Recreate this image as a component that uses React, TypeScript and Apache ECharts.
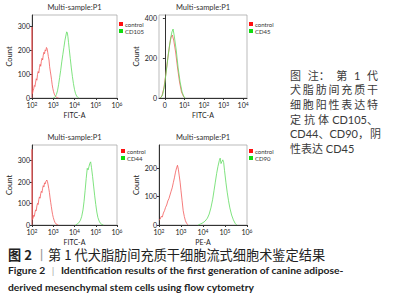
import React, { useEffect, useRef } from "react";
import * as echarts from "echarts";

// ---- data (x in decades for log panels, display units for panel 2) ----
const panelTitle = "Multi-sample:P1";
const logTicks = [2, 3, 4, 5, 6];
const biexTicks = [0, 1, 2, 3, 4];

const p1Control: [number, number][] = [
  [2.0, 0], [2.0, 295], [2.02, 18], [2.05, 30], [2.08, 38], [2.11, 52], [2.14, 48], [2.17, 66], [2.2, 80],
  [2.23, 74], [2.26, 98], [2.29, 110], [2.32, 104], [2.35, 126], [2.38, 140], [2.41, 132], [2.44, 152],
  [2.47, 165], [2.5, 158], [2.53, 178], [2.56, 190], [2.59, 184], [2.62, 200], [2.65, 196], [2.68, 210],
  [2.71, 205], [2.74, 190], [2.77, 172], [2.8, 158], [2.83, 130], [2.86, 112], [2.89, 95], [2.92, 76],
  [2.95, 55], [2.98, 40], [3.01, 28], [3.05, 16], [3.1, 8], [3.15, 3], [3.2, 1], [3.25, 0],
];
const p1CD105: [number, number][] = [
  [3.0, 0], [3.05, 2], [3.1, 6], [3.15, 15], [3.2, 30], [3.25, 55], [3.3, 85], [3.35, 115], [3.4, 150],
  [3.45, 180], [3.5, 210], [3.55, 240], [3.6, 262], [3.63, 275], [3.66, 272], [3.69, 255], [3.72, 230],
  [3.75, 205], [3.8, 165], [3.85, 125], [3.9, 90], [3.95, 60], [4.0, 35], [4.05, 18], [4.1, 8], [4.15, 3], [4.2, 0],
];
const p2Control: [number, number][] = [
  [-0.25, 0], [-0.15, 10], [-0.05, 50], [0.05, 120], [0.15, 200], [0.25, 270], [0.32, 305], [0.38, 315],
  [0.45, 290], [0.55, 230], [0.65, 150], [0.75, 80], [0.85, 30], [0.95, 8], [1.02, 0],
];
const p2CD45: [number, number][] = [
  [-0.22, 0], [-0.12, 15], [-0.02, 60], [0.08, 140], [0.18, 220], [0.28, 290], [0.36, 330], [0.42, 345],
  [0.48, 310], [0.58, 240], [0.68, 150], [0.78, 80], [0.88, 30], [0.98, 5], [1.05, 0],
];
const p3Control: [number, number][] = [
  [2.0, 0], [2.0, 350], [2.02, 25], [2.05, 32], [2.08, 45], [2.11, 40], [2.14, 58], [2.17, 70], [2.2, 66],
  [2.23, 88], [2.26, 100], [2.29, 95], [2.32, 118], [2.35, 130], [2.38, 124], [2.41, 145], [2.44, 156],
  [2.47, 150], [2.5, 170], [2.53, 182], [2.56, 176], [2.59, 195], [2.62, 190], [2.66, 203], [2.7, 208],
  [2.73, 200], [2.76, 185], [2.79, 168], [2.82, 150], [2.85, 125], [2.88, 105], [2.91, 85], [2.94, 65],
  [2.97, 48], [3.0, 35], [3.04, 22], [3.08, 12], [3.13, 5], [3.18, 2], [3.24, 0],
];
const p3CD44: [number, number][] = [
  [4.05, 0], [4.12, 4], [4.2, 10], [4.28, 22], [4.34, 40], [4.4, 70], [4.45, 110], [4.5, 160], [4.55, 215],
  [4.6, 262], [4.64, 255], [4.68, 270], [4.72, 285], [4.76, 292], [4.8, 265], [4.85, 225], [4.9, 180],
  [4.95, 135], [5.0, 95], [5.05, 60], [5.1, 35], [5.16, 18], [5.22, 8], [5.28, 3], [5.36, 0],
];
const p4Control: [number, number][] = [
  [2.0, 17], [2.05, 20], [2.1, 30], [2.15, 28], [2.2, 42], [2.25, 50], [2.3, 62], [2.35, 70], [2.4, 84],
  [2.45, 92], [2.5, 105], [2.55, 118], [2.6, 130], [2.65, 148], [2.7, 165], [2.75, 185], [2.8, 200],
  [2.84, 209], [2.88, 195], [2.92, 172], [2.96, 150], [3.0, 120], [3.05, 85], [3.1, 50], [3.15, 30],
  [3.2, 15], [3.26, 5], [3.33, 0],
];
const p4CD90: [number, number][] = [
  [3.78, 0], [3.9, 4], [4.0, 8], [4.1, 14], [4.2, 24], [4.28, 38], [4.36, 60], [4.44, 90], [4.5, 120],
  [4.56, 150], [4.62, 180], [4.68, 205], [4.74, 225], [4.78, 234], [4.82, 215], [4.86, 222], [4.9, 228],
  [4.94, 218], [4.98, 190], [5.04, 150], [5.1, 115], [5.16, 85], [5.22, 60], [5.3, 35], [5.38, 18],
  [5.46, 6], [5.53, 0],
];

const markerNames = ["CD105", "CD45", "CD44", "CD90"];
const xAxisNames = ["FITC-A", "FITC-A", "FITC-A", "PE-A"];
const yMax = [345, 415, 370, 280];
const yTicks = [
  [0, 100, 200, 300],
  [0, 200, 400],
  [0, 100, 200, 300],
  [0, 100, 200],
];

// justified note lines, split into tokens; the last line is left-aligned
const noteLines: string[][] = [
  ["图", "注：", "第", "1", "代"],
  ["犬", "脂", "肪", "间", "充", "质", "干"],
  ["细", "胞", "阳", "性", "表", "达", "特"],
  ["定", "抗", "体", "CD105、"],
  ["CD44、CD90，", "阴"],
  ["性表达 CD45"],
];
const captionCn = "第 1 代犬脂肪间充质干细胞流式细胞术鉴定结果";
const captionEn1 = "Identification results of the first generation of canine adipose-";
const captionEn2 = "derived mesenchymal stem cells using flow cytometry";

const FONT = 'Lato, "Noto Sans", sans-serif';
const CJK = '"Noto Sans CJK SC", "Noto Sans", sans-serif';
const NOTE_FONT = 'Lato, "Noto Sans CJK SC", sans-serif';
const RED_LINE = "#f25b5b";
const GREEN_LINE = "#5fdc5f";

const grids = [
  { left: 32, top: 15, width: 85, height: 83 },
  { left: 159, top: 15, width: 88, height: 83 },
  { left: 32, top: 145, width: 85, height: 80 },
  { left: 159, top: 145, width: 88, height: 80 },
];
const legendPos = [
  { left: 119, top: 21 },
  { left: 249, top: 21 },
  { left: 121, top: 148 },
  { left: 249, top: 148 },
];

function measure(text: string, font: string): number {
  const c = document.createElement("canvas").getContext("2d");
  if (!c) return text.length * 10;
  c.font = font;
  return c.measureText(text).width;
}

export default function App() {
  const ref = useRef<HTMLDivElement>(null);
  useEffect(() => {
    if (!ref.current) return;
    const chart = echarts.init(ref.current, undefined, { renderer: "svg" });
    const supRich = {
      s: { fontSize: 5, verticalAlign: "top", lineHeight: 8, fontFamily: FONT, color: "#222", padding: [0, 0, 2, 0] },
      b: { fontSize: 7, lineHeight: 8, fontFamily: FONT, color: "#222" },
    };
    const xAxes = grids.map((_, i) => {
      const biex = i === 1;
      const ticks = biex ? biexTicks : logTicks;
      return {
        type: "value",
        gridIndex: i,
        min: biex ? -0.3 : 2,
        max: biex ? 4.2 : 6,
        name: xAxisNames[i],
        nameLocation: "middle",
        nameGap: 13,
        nameTextStyle: { fontSize: 7, color: "#222", fontFamily: FONT },
        axisLine: { show: true, onZero: false, lineStyle: { color: "#333", width: 1 } },
        axisTick: { show: true, length: 2, customValues: ticks, lineStyle: { color: "#333" } },
        splitLine: { show: false },
        axisLabel: {
          margin: 3,
          customValues: ticks,
          formatter: (v: number) => (biex && v === 0 ? "{b|0}" : "{b|10}{s|" + v + "}"),
          rich: supRich,
        },
      };
    });
    const yAxes = grids.map((_, i) => ({
      type: "value",
      gridIndex: i,
      min: 0,
      max: yMax[i],
      name: "Count",
      nameLocation: "middle",
      nameGap: 19,
      nameTextStyle: { fontSize: 7.5, color: "#222", fontFamily: FONT },
      axisLine: { show: true, lineStyle: { color: "#333", width: 1 } },
      axisTick: { show: true, length: 2, customValues: yTicks[i], lineStyle: { color: "#333" } },
      splitLine: { show: false },
      axisLabel: { fontSize: 7, margin: 2, color: "#222", fontFamily: FONT, customValues: yTicks[i] },
    }));
    const controls = [p1Control, p2Control, p3Control, p4Control];
    const markers = [p1CD105, p2CD45, p3CD44, p4CD90];
    const series: any[] = [];
    grids.forEach((_, i) => {
      series.push({
        type: "line", name: "control", xAxisIndex: i, yAxisIndex: i, data: controls[i],
        showSymbol: false, symbol: "none", color: RED_LINE, lineStyle: { width: 0.8, color: RED_LINE },
      });
      series.push({
        type: "line", name: markerNames[i], xAxisIndex: i, yAxisIndex: i, data: markers[i],
        showSymbol: false, symbol: "none", color: GREEN_LINE, lineStyle: { width: 0.8, color: GREEN_LINE },
      });
    });
    const legends = grids.map((_, i) => ({
      orient: "vertical",
      left: legendPos[i].left,
      top: legendPos[i].top,
      padding: 0,
      itemGap: 1,
      itemWidth: 4,
      itemHeight: 4,
      icon: "rect",
      selectedMode: false,
      textStyle: { fontSize: 6, color: "#333", fontFamily: FONT, padding: [0, 0, 0, -3] },
      data: [
        { name: "control", itemStyle: { color: "#ff1010" } },
        { name: markerNames[i], itemStyle: { color: "#10dd10" } },
      ],
    }));
    const titles = grids.map((g) => ({
      type: "text",
      x: g.left + g.width / 2,
      y: g.top - 4,
      style: { text: panelTitle, fontSize: 7.5, fill: "#333", fontFamily: FONT, align: "center", verticalAlign: "bottom" },
    }));

    // justified note block
    const noteSize = 11;
    const noteFontCss = `${noteSize}px Lato, "Noto Sans CJK SC"`;
    const noteLeft = 290;
    const noteWidth = 88;
    const notes: any[] = [];
    noteLines.forEach((tokens, k) => {
      const y = 75 + k * 14.7;
      const widths = tokens.map((t) => measure(t, noteFontCss));
      const total = widths.reduce((a, b) => a + b, 0);
      const last = k === noteLines.length - 1;
      const gap = !last && tokens.length > 1 ? Math.max(1, (noteWidth - total) / (tokens.length - 1)) : 0;
      let x = noteLeft;
      tokens.forEach((t, j) => {
        notes.push({
          type: "text",
          x,
          y,
          style: {
            text: t, fontSize: noteSize, lineHeight: 12, fill: "#3a3a3a", fontFamily: NOTE_FONT,
            align: "left", verticalAlign: "middle",
          },
        });
        x += widths[j] + gap;
      });
    });

    const captions = [
      {
        type: "text", x: 8, y: 254,
        style: {
          text: "{b|图 2} {g|丨}" + captionCn,
          fontSize: 13.2, lineHeight: 14, fill: "#222", fontFamily: CJK, verticalAlign: "middle",
          rich: {
            b: { fontSize: 13.2, lineHeight: 14, fontWeight: "bold", fontFamily: CJK, fill: "#222" },
            g: { fontSize: 13.2, lineHeight: 14, fontFamily: CJK, fill: "#999" },
          },
        },
      },
      {
        type: "text", x: 8, y: 270,
        style: {
          text: "Figure 2 {g||} " + captionEn1,
          fontSize: 10.3, lineHeight: 12, fontWeight: "bold", fill: "#222", fontFamily: FONT, verticalAlign: "middle",
          rich: { g: { fontSize: 10.3, lineHeight: 12, fontFamily: FONT, fill: "#aaa", padding: [0, 4, 0, 4] } },
        },
      },
      {
        type: "text", x: 8, y: 287,
        style: { text: captionEn2, fontSize: 10.3, lineHeight: 12, fontWeight: "bold", fill: "#222", fontFamily: FONT, verticalAlign: "middle" },
      },
    ];
    chart.setOption({
      animation: false,
      backgroundColor: "#fff",
      textStyle: { fontFamily: FONT },
      grid: grids.map((g) => ({ ...g, show: true, borderColor: "#aaa", borderWidth: 0.8, backgroundColor: "transparent" })),
      xAxis: xAxes,
      yAxis: yAxes,
      legend: legends,
      series,
      graphic: [...titles, ...notes, ...captions],
    });
    return () => chart.dispose();
  }, []);
  return (
    <div
      ref={ref}
      style={{ position: "fixed", left: 0, top: 0, width: 393, height: 300, background: "#fff" }}
    />
  );
}
